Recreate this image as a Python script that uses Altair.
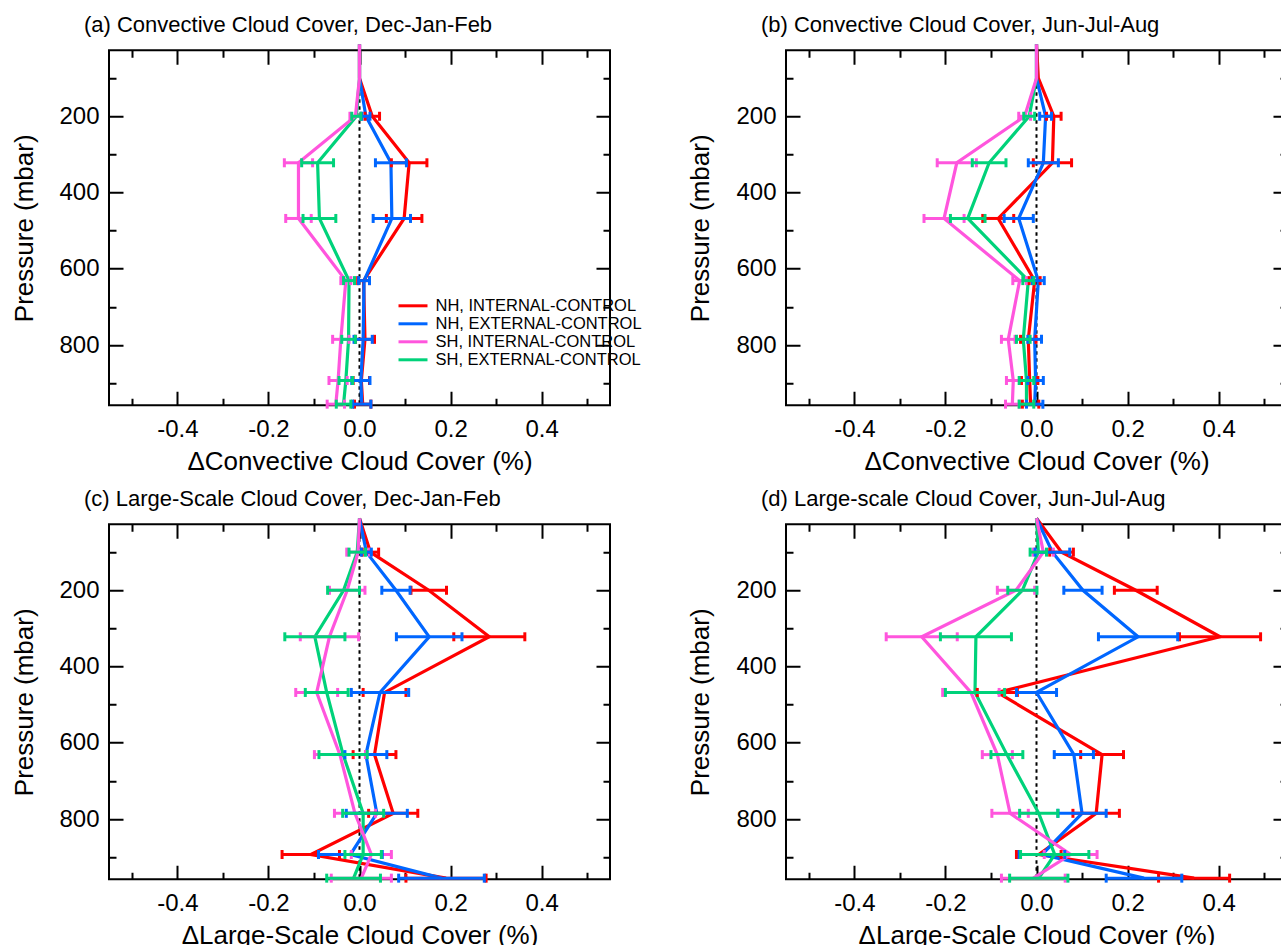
import altair as alt
import pandas as pd

# ---------------- data ----------------
SERIES = ["NH, INTERNAL-CONTROL", "NH, EXTERNAL-CONTROL",
          "SH, INTERNAL-CONTROL", "SH, EXTERNAL-CONTROL"]
COLORS = ["#ff0000", "#0066ff", "#ff55dd", "#00d27a"]

# pressure levels (mbar) of the plotted points
LEVELS = [11, 100, 200, 322, 468, 631, 785, 893, 955]

X_TICKS = [-0.5, -0.4, -0.3, -0.2, -0.1, 0.0, 0.1, 0.2, 0.3, 0.4, 0.5]
Y_TICKS = [100, 200, 300, 400, 500, 600, 700, 800, 900]

TITLES = ["(a) Convective Cloud Cover, Dec-Jan-Feb",
          "(b) Convective Cloud Cover, Jun-Jul-Aug",
          "(c) Large-Scale Cloud Cover, Dec-Jan-Feb",
          "(d) Large-scale Cloud Cover, Jun-Jul-Aug"]
XTITLES = ["\u0394Convective Cloud Cover (%)", "\u0394Convective Cloud Cover (%)",
           "\u0394Large-Scale Cloud Cover (%)", "\u0394Large-Scale Cloud Cover (%)"]

# (a) convective, DJF
A_NH_INT = [0, 0, 0.028, 0.109, 0.098, 0.009, 0.012, 0.004, 0.007]
A_NH_INT_ERR = [0, 0, 0.016, 0.039, 0.039, 0.013, 0.021, 0.018, 0.018]
A_NH_EXT = [0, 0, 0.014, 0.069, 0.071, 0.010, 0.008, 0.003, 0.005]
A_NH_EXT_ERR = [0, 0, 0.009, 0.034, 0.041, 0.012, 0.020, 0.020, 0.020]
A_SH_INT = [0, 0, -0.009, -0.134, -0.134, -0.030, -0.041, -0.047, -0.052]
A_SH_INT_ERR = [0, 0, 0.012, 0.031, 0.028, 0.011, 0.018, 0.020, 0.019]
A_SH_EXT = [0, 0, -0.007, -0.092, -0.088, -0.023, -0.024, -0.030, -0.035]
A_SH_EXT_ERR = [0, 0, 0.010, 0.035, 0.036, 0.012, 0.015, 0.015, 0.016]

# (b) convective, JJA
B_NH_INT = [0, 0.004, 0.038, 0.035, -0.084, -0.004, -0.018, -0.015, -0.013]
B_NH_INT_ERR = [0, 0, 0.016, 0.042, 0.034, 0.012, 0.017, 0.018, 0.018]
B_NH_EXT = [0, 0, 0.020, 0.015, -0.039, 0.004, -0.004, -0.002, -0.004]
B_NH_EXT_ERR = [0, 0, 0.013, 0.033, 0.032, 0.013, 0.015, 0.017, 0.018]
B_SH_INT = [0, 0, -0.026, -0.175, -0.203, -0.037, -0.062, -0.051, -0.053]
B_SH_INT_ERR = [0, 0, 0.013, 0.043, 0.044, 0.015, 0.015, 0.015, 0.015]
B_SH_EXT = [0, 0, -0.016, -0.104, -0.151, -0.018, -0.029, -0.022, -0.022]
B_SH_EXT_ERR = [0, 0, 0.012, 0.037, 0.038, 0.012, 0.015, 0.016, 0.016]

# (c) large-scale, DJF
C_NH_INT = [0, 0.024, 0.152, 0.285, 0.055, 0.033, 0.074, -0.107, 0.190]
C_NH_INT_ERR = [0, 0.018, 0.039, 0.078, 0.047, 0.047, 0.054, 0.063, 0.088]
C_NH_EXT = [0, 0.015, 0.080, 0.153, 0.045, 0.014, 0.038, -0.020, 0.180]
C_NH_EXT_ERR = [0, 0.011, 0.031, 0.072, 0.063, 0.046, 0.067, 0.070, 0.094]
C_SH_INT = [0, -0.003, -0.027, -0.066, -0.094, -0.043, -0.010, 0.026, 0.004]
C_SH_INT_ERR = [0, 0.025, 0.039, 0.064, 0.046, 0.056, 0.045, 0.044, 0.066]
C_SH_EXT = [0, -0.005, -0.035, -0.098, -0.072, -0.036, 0.008, 0.008, -0.013]
C_SH_EXT_ERR = [0, 0.018, 0.035, 0.066, 0.047, 0.053, 0.045, 0.040, 0.059]

# (d) large-scale, JJA
D_NH_INT = [0, 0.055, 0.218, 0.403, -0.086, 0.144, 0.131, 0.005, 0.346]
D_NH_INT_ERR = [0, 0.026, 0.047, 0.089, 0.044, 0.047, 0.051, 0.049, 0.078]
D_NH_EXT = [0, 0.035, 0.102, 0.223, 0.000, 0.082, 0.100, 0.012, 0.236]
D_NH_EXT_ERR = [0, 0.038, 0.042, 0.087, 0.044, 0.043, 0.053, 0.050, 0.083]
D_SH_INT = [0, 0.015, -0.045, -0.252, -0.144, -0.086, -0.058, 0.075, -0.007]
D_SH_INT_ERR = [0, 0.022, 0.041, 0.078, 0.062, 0.033, 0.040, 0.058, 0.070]
D_SH_EXT = [0, 0.004, -0.031, -0.133, -0.135, -0.065, 0.005, 0.040, 0.005]
D_SH_EXT_ERR = [0, 0.018, 0.032, 0.078, 0.065, 0.035, 0.042, 0.075, 0.064]

PANEL_VALUES = [
    ([A_NH_INT, A_NH_EXT, A_SH_INT, A_SH_EXT], [A_NH_INT_ERR, A_NH_EXT_ERR, A_SH_INT_ERR, A_SH_EXT_ERR]),
    ([B_NH_INT, B_NH_EXT, B_SH_INT, B_SH_EXT], [B_NH_INT_ERR, B_NH_EXT_ERR, B_SH_INT_ERR, B_SH_EXT_ERR]),
    ([C_NH_INT, C_NH_EXT, C_SH_INT, C_SH_EXT], [C_NH_INT_ERR, C_NH_EXT_ERR, C_SH_INT_ERR, C_SH_EXT_ERR]),
    ([D_NH_INT, D_NH_EXT, D_SH_INT, D_SH_EXT], [D_NH_INT_ERR, D_NH_EXT_ERR, D_SH_INT_ERR, D_SH_EXT_ERR]),
]

# ---------------- styling ----------------
FONT = "Liberation Sans"
W, H = 501, 355
LINE_ORDER = [0, 1, 3, 2]   # pink line on top
BAR_ORDER = [2, 0, 1, 3]

x_scale = alt.Scale(domain=[-0.55, 0.55], nice=False, zero=False)
y_scale = alt.Scale(domain=[27, 958], reverse=True, nice=False, zero=False)
color_scale = alt.Scale(domain=SERIES, range=COLORS)


def x_axis(title):
    return alt.Axis(
        values=X_TICKS, title=title,
        labelExpr="round(datum.value*10) % 2 == 0 ? ((datum.value < 0 ? '-' : '') + format(abs(datum.value), '.1f')) : ''",
        grid=True, gridColor="black", gridWidth=2, gridOpacity=1,
        gridDash={"condition": {"test": "round(datum.value*10) % 2 == 0", "value": [14, H - 28]},
                  "value": [7, H - 14]},
        domain=False, ticks=False, tickSize=0,
        labelPadding=12, labelFont=FONT, labelFontSize=24, labelColor="black",
        labelFlush=False, labelOverlap=False,
        titleFont=FONT, titleFontSize=26, titleFontWeight="normal", titleColor="black",
        titleBaseline="alphabetic", titleY=64,
    )


Y_AXIS = alt.Axis(
    values=Y_TICKS, title="Pressure (mbar)",
    labelExpr="datum.value % 200 == 0 ? '' + datum.value : ''",
    grid=True, gridColor="black", gridWidth=2, gridOpacity=1,
    gridDash={"condition": {"test": "datum.value % 200 == 0", "value": [14, W - 28]},
              "value": [7, W - 14]},
    domain=False, ticks=False, tickSize=0,
    labelPadding=10, labelFont=FONT, labelFontSize=24, labelColor="black",
    labelFlush=False, labelOverlap=False,
    titleFont=FONT, titleFontSize=26, titleFontWeight="normal", titleColor="black",
    titleBaseline="alphabetic", titleX=-77,
)

LEGEND = alt.Legend(
    title=None, orient="none", legendX=295, legendY=246.5, padding=0,
    symbolType="M-2,0L2,0", symbolSize=210, symbolStrokeWidth=3,
    labelFont=FONT, labelFontSize=16.5, labelColor="black", labelOffset=13.5,
    labelLimit=400, rowPadding=0,
)


def make_panel(i):
    vals, errs = PANEL_VALUES[i]
    rows = []
    for s, name in enumerate(SERIES):
        for k, p in enumerate(LEVELS):
            rows.append({"series": name, "p": p, "x": vals[s][k], "e": errs[s][k]})
    df = pd.DataFrame(rows)
    xa = x_axis(XTITLES[i])
    legend = LEGEND if i == 0 else None
    color = alt.Color("series:N", scale=color_scale, legend=legend)
    y = alt.Y("p:Q", scale=y_scale, axis=Y_AXIS)
    base = alt.Chart(df)

    layers = [
        alt.Chart(pd.DataFrame({"x": [0.0]}))
        .mark_rule(color="black", strokeWidth=2, strokeDash=[3.5, 3.5])
        .encode(x=alt.X("x:Q", scale=x_scale, axis=xa))
    ]
    for s in LINE_ORDER:
        layers.append(
            base.transform_filter(alt.datum.series == SERIES[s])
            .mark_line(strokeWidth=3.2)
            .encode(x=alt.X("x:Q", scale=x_scale, axis=xa), y=y, color=color,
                    order=alt.Order("p:Q"))
        )
    for s in BAR_ORDER:
        bars = (base.transform_filter(alt.datum.series == SERIES[s])
                .transform_filter("datum.e > 0")
                .transform_calculate(lo="datum.x - datum.e", hi="datum.x + datum.e"))
        layers.append(
            bars.mark_rule(strokeWidth=3)
            .encode(x=alt.X("lo:Q", scale=x_scale, axis=xa), x2="hi:Q", y=y, color=color)
        )
        layers.append(
            bars.transform_fold(["lo", "hi"], as_=["side", "xv"])
            .mark_tick(orient="vertical", size=9, thickness=3, opacity=1)
            .encode(x=alt.X("xv:Q", scale=x_scale, axis=xa), y=y, color=color)
        )
    return alt.layer(*layers).properties(
        width=W, height=H,
        title=alt.TitleParams(TITLES[i], anchor="start", frame="group", dx=-25, offset=-16,
                              baseline="alphabetic", font=FONT, fontSize=22,
                              fontWeight="normal", color="black"),
    )


chart = (
    alt.concat(*[make_panel(i) for i in range(4)], columns=2,
               spacing={"row": 119, "column": 176}, bounds="flush")
    .resolve_legend(color="independent")
    .properties(padding={"left": 10, "top": 12.3, "right": -7, "bottom": -4})
    .configure(font=FONT)
    .configure_view(stroke="black", strokeWidth=2)
)

chart.save("out.html", embed_options={"renderer": "svg", "actions": False})
